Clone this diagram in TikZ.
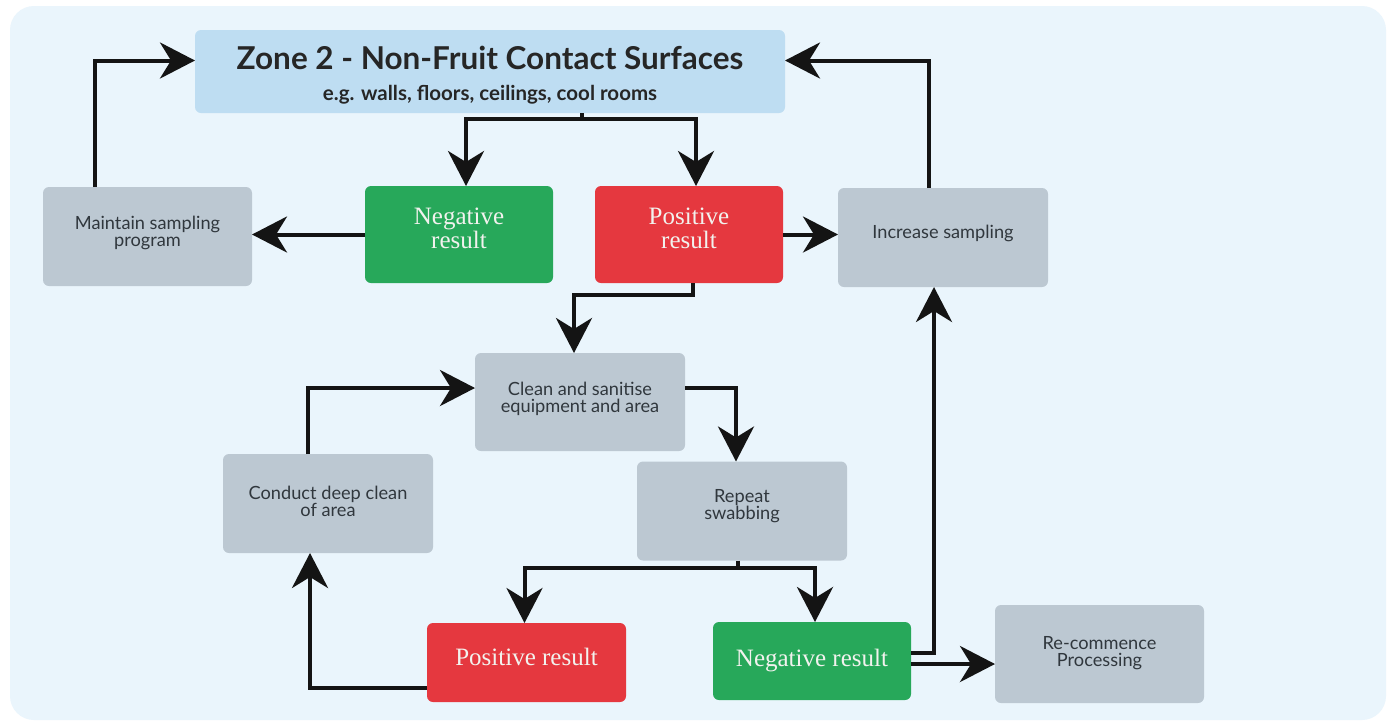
\documentclass[tikz,border=0pt]{standalone}
\usepackage{fontspec}
\setmainfont{Lato}
\newfontfamily\resfont{Liberation Serif}
\usetikzlibrary{arrows.meta}
\definecolor{panelbg}{HTML}{EAF5FC}
\definecolor{titlebg}{HTML}{BEDDF2}
\definecolor{greybox}{HTML}{BCC8D2}
\definecolor{posred}{HTML}{E5383F}
\definecolor{neggreen}{HTML}{27A85A}
\definecolor{txtdark}{HTML}{30373D}
\definecolor{reswhite}{HTML}{F2F2EE}
\tikzset{
  box/.style={rounded corners=6pt, inner sep=0pt, outer sep=0pt, align=center, text depth=4pt},
  greyb/.style={box, fill=greybox, text=txtdark, font=\fontsize{18.2}{17}\selectfont},
  posb/.style={box, fill=posred, text=reswhite, font=\resfont\fontsize{25}{23.3}\selectfont},
  negb/.style={box, fill=neggreen, text=reswhite, font=\resfont\fontsize{25}{23.3}\selectfont},
  conn/.style={line width=4pt, draw=black!92},
  arr/.style={conn, -{Stealth[length=35pt,width=36pt,inset=11pt]}},
}
\begin{document}
\begin{tikzpicture}[x=1pt,y=-1pt]
\fill[white] (0,0) rectangle (1389,724);
\useasboundingbox (0,0) rectangle (1389,724);
\fill[panelbg, rounded corners=24pt] (10,6) rectangle (1386,720);

\node[box, fill=titlebg, text=black!85, minimum width=590pt, minimum height=83pt,
      font=\fontsize{20.5}{30.7}\selectfont\bfseries, text height=61pt] (title) at (490,71.5)
  {{\fontsize{31.5}{30.7}\selectfont Zone 2 - Non-Fruit Contact Surfaces}\\e.g. walls, floors, ceilings, cool rooms};

\node[greyb, minimum width=209pt, minimum height=99pt, text height=24.4pt] (maint) at (147.5,236.5) {Maintain sampling\\program};
\node[negb, minimum width=188pt, minimum height=97pt, text height=31.5pt] (neg1) at (459,234.5) {Negative\\result};
\node[posb, minimum width=188pt, minimum height=97pt, text height=31.5pt] (pos1) at (689,234.5) {Positive\\result};
\node[greyb, minimum width=210pt, minimum height=99pt, text height=6pt] (incr) at (943,237.5) {Increase sampling};
\node[greyb, minimum width=210pt, minimum height=98pt, text height=25pt] (clean) at (580,402) {Clean and sanitise\\equipment and area};
\node[greyb, minimum width=210pt, minimum height=99pt, text height=30pt] (conduct) at (328,503.5) {Conduct deep clean\\of area};
\node[greyb, minimum width=210pt, minimum height=99pt, text height=21pt] (repeat) at (742,511) {Repeat\\swabbing};
\node[posb, minimum width=199pt, minimum height=79pt, text height=9pt] (pos2) at (526.5,662.5) {Positive result};
\node[negb, minimum width=198pt, minimum height=78pt, text height=15.4pt] (neg2) at (812,661) {Negative result};
\node[greyb, minimum width=209pt, minimum height=98pt, text height=29pt] (recomm) at (1099.5,654) {Re-commence\\Processing};

% top loop
\draw[arr] ([xshift=52pt]maint.north west) |- ([yshift=11pt]title.west);
\draw[arr] ([xshift=-14pt]incr.north) |- ([yshift=11pt]title.east);
\coordinate (tsplit) at ([xshift=92pt,yshift=-6pt]title.south);
\draw[conn] ([xshift=92pt]title.south) -- (tsplit);
\draw[arr] (tsplit) -| ([xshift=7pt]neg1.north);
\draw[arr] (tsplit) -| ([xshift=7pt]pos1.north);
\draw[arr] (neg1.west) -- (neg1.west -| maint.east);
\draw[arr] (pos1.east) -- (pos1.east -| incr.west);

% positive to clean
\coordinate (pbend) at ([xshift=4pt,yshift=-12pt]pos1.south);
\draw[arr] ([xshift=4pt]pos1.south) -- (pbend) -| ([xshift=-6pt]clean.north);
% clean to repeat
\draw[arr] ([yshift=14pt]clean.east) -| ([xshift=-6pt]repeat.north);
% repeat split
\coordinate (rsplit) at ([xshift=-4pt,yshift=-7pt]repeat.south);
\draw[conn] ([xshift=-4pt]repeat.south) -- (rsplit);
\draw[arr] (rsplit) -| ([xshift=-2pt]pos2.north);
\draw[arr] (rsplit) -| ([xshift=3pt]neg2.north);
% lower loop
\draw[arr] ([yshift=-25pt]pos2.west) -| ([xshift=-18pt]conduct.south);
\draw[arr] ([xshift=-20pt]conduct.north) |- ([yshift=14pt]clean.west);
% negative onward
\draw[arr] ([yshift=8pt]neg2.east) -| ([xshift=-9pt]incr.south);
\draw[arr] ([yshift=-3pt]neg2.east) -- ([yshift=-3pt]neg2.east -| recomm.west);
\end{tikzpicture}
\end{document}
